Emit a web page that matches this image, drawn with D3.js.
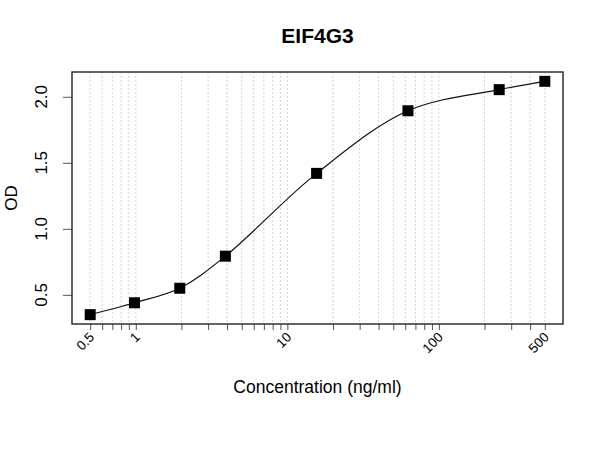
<!DOCTYPE html>
<html>
<head>
<meta charset="utf-8">
<script src="https://cdn.jsdelivr.net/npm/d3@7"></script>
<style>
    body { margin: 0; background: #fff; }
    svg { display: block; font-family: Arial, "Liberation Sans", sans-serif; }
</style>
</head>
<body>
<div id="chart"></div>
<script>
// data
let conc = [0.5, 0.98, 1.95, 3.9, 15.6, 62.5, 250, 500];
let od = [0.35, 0.44, 0.55, 0.793, 1.42, 1.894, 2.054, 2.117];

let xTickVals = [0.5, 1, 10, 100, 500];
let xTickLabels = ['0.5', '1', '10', '100', '500'];
let xMinor = [0.5, 0.6, 0.7, 0.8, 0.9, 1, 2, 3, 4, 5, 6, 7, 8, 9, 10,
    20, 30, 40, 50, 60, 70, 80, 90, 100, 200, 300, 400, 500];
let yTickVals = [0.5, 1.0, 1.5, 2.0];

let width = 600, height = 450;
let margin = {top: 72, left: 72, right: 37, bottom: 126};

let svg = d3.select('#chart').append('svg')
    .attr('width', width)
    .attr('height', height);

// R-style 4% padding on the log axis
let lx = [Math.log10(0.5), Math.log10(500)];
let pad = (lx[1] - lx[0]) * 0.04;
let x = d3.scaleLog()
    .domain([Math.pow(10, lx[0] - pad), Math.pow(10, lx[1] + pad)])
    .range([margin.left, width - margin.right]);

let ypad = (d3.max(od) - d3.min(od)) * 0.04;
let y = d3.scaleLinear()
    .domain([d3.min(od) - ypad, d3.max(od) + ypad])
    .range([height - margin.bottom, margin.top]);

let bottom = height - margin.bottom;

// grid lines
svg.append('g')
    .selectAll('line')
    .data(xMinor)
    .join('line')
    .attr('x1', d => x(d))
    .attr('x2', d => x(d))
    .attr('y1', margin.top)
    .attr('y2', bottom)
    .attr('stroke', '#d4d4d4')
    .attr('stroke-dasharray', '2,2');

// x axis ticks (all, no labels)
let xAxis = d3.axisBottom(x)
    .tickValues(xMinor)
    .tickFormat('')
    .tickSize(6)
    .tickSizeOuter(0);
let gx = svg.append('g')
    .attr('transform', `translate(0,${bottom})`)
    .call(xAxis);
gx.select('.domain').remove();
gx.selectAll('.tick line').attr('stroke', '#555');

// x tick labels, rotated
svg.append('g')
    .selectAll('text')
    .data(xTickVals)
    .join('text')
    .attr('transform', d => `translate(${x(d) + 5},${bottom + 14}) rotate(-45)`)
    .attr('text-anchor', 'end')
    .attr('font-size', 13.5)
    .text((d, i) => xTickLabels[i]);

// y axis
let yAxis = d3.axisLeft(y)
    .tickValues(yTickVals)
    .tickFormat('')
    .tickSize(9)
    .tickSizeOuter(0);
let gy = svg.append('g')
    .attr('transform', `translate(${margin.left},0)`)
    .call(yAxis);
gy.select('.domain').remove();
gy.selectAll('.tick line').attr('stroke', '#555');

svg.append('g')
    .selectAll('text')
    .data(yTickVals)
    .join('text')
    .attr('transform', d => `translate(47,${y(d)}) rotate(-90)`)
    .attr('text-anchor', 'middle')
    .attr('font-size', 17)
    .text(d => d3.format('.1f')(d));

// plot box
svg.append('rect')
    .attr('x', margin.left)
    .attr('y', margin.top)
    .attr('width', width - margin.left - margin.right)
    .attr('height', bottom - margin.top)
    .attr('fill', 'none')
    .attr('stroke', '#222')
    .attr('stroke-width', 1.4);

// fitted curve
let pts = conc.map((c, i) => [c, od[i]]);
let line = d3.line()
    .x(d => x(d[0]))
    .y(d => y(d[1]))
    .curve(d3.curveCatmullRom.alpha(0.5));
svg.append('path')
    .datum(pts)
    .attr('d', line)
    .attr('fill', 'none')
    .attr('stroke', '#111')
    .attr('stroke-width', 1.2);

// points
let s = 11;
svg.append('g')
    .selectAll('rect')
    .data(pts)
    .join('rect')
    .attr('x', d => x(d[0]) - s / 2)
    .attr('y', d => y(d[1]) - s / 2)
    .attr('width', s)
    .attr('height', s)
    .attr('fill', '#000');

// titles
svg.append('text')
    .attr('x', (margin.left + width - margin.right) / 2)
    .attr('y', 43)
    .attr('text-anchor', 'middle')
    .attr('font-size', 21)
    .attr('font-weight', 'bold')
    .text('EIF4G3');

svg.append('text')
    .attr('x', (margin.left + width - margin.right) / 2)
    .attr('y', 393)
    .attr('text-anchor', 'middle')
    .attr('font-size', 17.5)
    .text('Concentration (ng/ml)');

svg.append('text')
    .attr('transform', `translate(17,${(margin.top + bottom) / 2}) rotate(-90)`)
    .attr('text-anchor', 'middle')
    .attr('font-size', 17)
    .text('OD');
</script>
</body>
</html>
